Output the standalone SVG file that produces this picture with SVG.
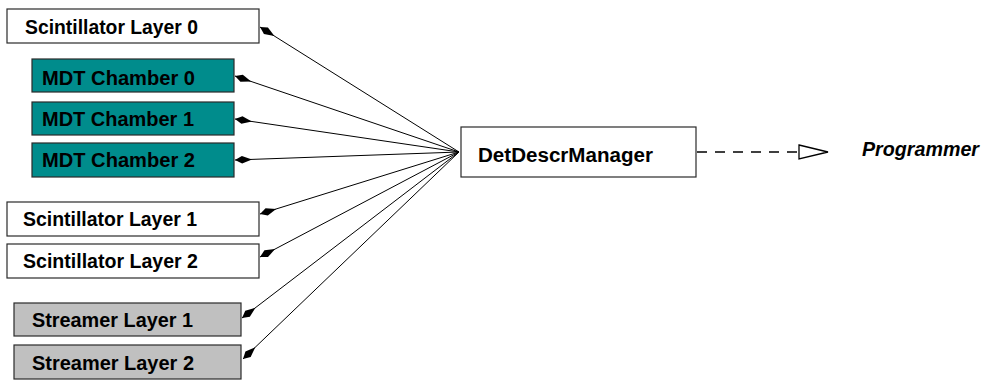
<svg xmlns="http://www.w3.org/2000/svg" width="988" height="381" viewBox="0 0 988 381">
  <style>
    .box { stroke: #2a2a2a; stroke-width: 1.2; }
    .plain { fill: #ffffff; }
    .mdt { fill: #008c8c; }
    .streamer { fill: #c0c0c0; }
    .label { font-family: "Liberation Sans", Arial, sans-serif; font-weight: bold; font-size: 19.5px; fill: #000000; }
    .role { font-family: "Liberation Sans", Arial, sans-serif; font-weight: bold; font-style: italic; font-size: 19.5px; fill: #000000; }
    .link { stroke: #000000; stroke-width: 1; fill: none; marker-end: url(#diamond); }
    .dep { stroke: #000000; stroke-width: 1.4; stroke-dasharray: 10 8; fill: none; }
  </style>
  <defs>
    <marker id="diamond" markerUnits="userSpaceOnUse" markerWidth="20" markerHeight="10" viewBox="-19 -5 19 10" refX="0" refY="0" orient="auto">
      <path d="M0,0 L-7,-3.8 L-17,0 L-7,3.8 Z" fill="#000000"/>
    </marker>
  </defs>

  <rect width="988" height="381" fill="#ffffff"/>

  <!-- aggregation links from the manager to each detector element -->
  <g id="connectors">
    <line class="link" x1="459" y1="152" x2="260" y2="27"/>
    <line class="link" x1="459" y1="152" x2="235" y2="76"/>
    <line class="link" x1="459" y1="152" x2="235" y2="119"/>
    <line class="link" x1="459" y1="152" x2="235" y2="160"/>
    <line class="link" x1="459" y1="152" x2="260" y2="214"/>
    <line class="link" x1="459" y1="152" x2="260" y2="257"/>
    <line class="link" x1="459" y1="152" x2="242" y2="318"/>
    <line class="link" x1="459" y1="152" x2="243" y2="359"/>
    <!-- dependency towards the Programmer actor -->
    <line class="dep" x1="697" y1="152" x2="799" y2="152"/>
    <path d="M799,145 L828,152 L799,159 Z" fill="#ffffff" stroke="#000000" stroke-width="1.3"/>
  </g>

  <g id="scint0">
    <rect class="box plain" x="7" y="9" width="252" height="34"/>
    <text class="label" x="25" y="34" textLength="173" lengthAdjust="spacingAndGlyphs">Scintillator Layer 0</text>
  </g>
  <g id="mdt0">
    <rect class="box mdt" x="32" y="59" width="202" height="33"/>
    <text class="label" x="42" y="85" textLength="153" lengthAdjust="spacingAndGlyphs">MDT Chamber 0</text>
  </g>
  <g id="mdt1">
    <rect class="box mdt" x="32" y="102" width="202" height="33"/>
    <text class="label" x="42" y="126" textLength="152" lengthAdjust="spacingAndGlyphs">MDT Chamber 1</text>
  </g>
  <g id="mdt2">
    <rect class="box mdt" x="32" y="143" width="202" height="34"/>
    <text class="label" x="42" y="167" textLength="153" lengthAdjust="spacingAndGlyphs">MDT Chamber 2</text>
  </g>
  <g id="scint1">
    <rect class="box plain" x="7" y="202" width="252" height="34"/>
    <text class="label" x="23" y="226" textLength="174" lengthAdjust="spacingAndGlyphs">Scintillator Layer 1</text>
  </g>
  <g id="scint2">
    <rect class="box plain" x="7" y="244" width="252" height="34"/>
    <text class="label" x="23" y="268" textLength="175" lengthAdjust="spacingAndGlyphs">Scintillator Layer 2</text>
  </g>
  <g id="streamer1">
    <rect class="box streamer" x="14" y="303" width="227" height="33"/>
    <text class="label" x="32" y="327" textLength="161" lengthAdjust="spacingAndGlyphs">Streamer Layer 1</text>
  </g>
  <g id="streamer2">
    <rect class="box streamer" x="14" y="345" width="227" height="34"/>
    <text class="label" x="32" y="370" textLength="162" lengthAdjust="spacingAndGlyphs">Streamer Layer 2</text>
  </g>
  <g id="manager">
    <rect class="box plain" x="461" y="127" width="235" height="50"/>
    <text class="label" x="478" y="162" textLength="175" lengthAdjust="spacingAndGlyphs">DetDescrManager</text>
  </g>
  <g id="programmer">
    <text class="role" x="862" y="156" textLength="117" lengthAdjust="spacingAndGlyphs">Programmer</text>
  </g>
</svg>
